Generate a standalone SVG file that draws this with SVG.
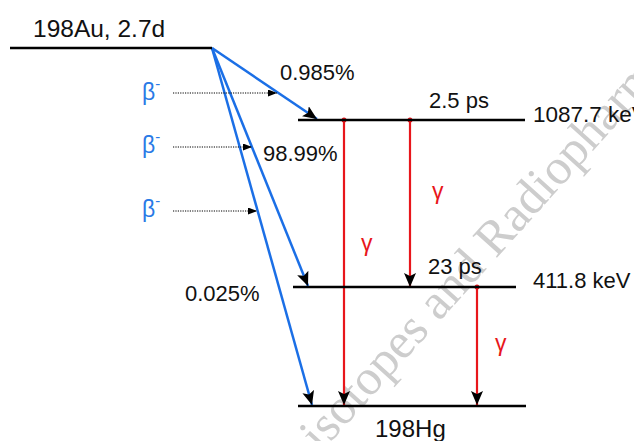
<svg xmlns="http://www.w3.org/2000/svg" width="634" height="441" viewBox="0 0 634 441">
<style>
text{font-family:"Liberation Sans",Arial,sans-serif;fill:#111}
.lvl{stroke:#000;stroke-width:2.5;fill:none}
.beta{stroke:#1b6fe6;stroke-width:2.5;fill:none;marker-end:url(#big)}
.gam{stroke:#e8161b;stroke-width:2.2;fill:none;marker-end:url(#big)}
.dot{stroke:#000;stroke-width:1;stroke-dasharray:1.2 1.2;fill:none;marker-end:url(#small)}
.bl{fill:#2a7ae6;font-size:23px}
.rd{fill:#e8161b;font-size:23px}
.wm{font-family:"Liberation Serif","Times New Roman",serif;fill:#cdcdcd;font-size:50px}
</style>
<defs>
<marker id="big" markerUnits="userSpaceOnUse" markerWidth="16" markerHeight="14" refX="14" refY="6" orient="auto" viewBox="0 0 16 14">
<path d="M0,0 L14,6 L0,12 L3,6 z" fill="#000"/>
</marker>
<marker id="small" markerUnits="userSpaceOnUse" markerWidth="10" markerHeight="8" refX="9" refY="3.5" orient="auto" viewBox="0 0 10 8">
<path d="M0,0 L9,3.5 L0,7 z" fill="#000"/>
</marker>
</defs>
<text class="wm" transform="translate(321,453) rotate(-48)">isotopes and Radiopharmaceuticals</text>
<g id="connectors">
<line class="beta" x1="212" y1="48" x2="317" y2="119"/>
<line class="beta" x1="212" y1="48" x2="308" y2="286"/>
<line class="beta" x1="212" y1="48" x2="312" y2="405"/>
<line class="gam" x1="344" y1="120" x2="344" y2="405"/>
<line class="gam" x1="410" y1="120" x2="410" y2="287"/>
<line class="gam" x1="477" y1="287" x2="477" y2="405"/>
<circle cx="344" cy="120" r="2.5" fill="#e8161b"/>
<circle cx="410" cy="120" r="2.5" fill="#e8161b"/>
<circle cx="477" cy="287" r="2.5" fill="#e8161b"/>
<line class="dot" x1="173" y1="93" x2="277" y2="93"/>
<line class="dot" x1="173" y1="147" x2="252" y2="147"/>
<line class="dot" x1="173" y1="211" x2="257" y2="211"/>
</g>
<g id="au198">
<line class="lvl" x1="10" y1="48" x2="212" y2="48"/>
<text x="33" y="37" style="font-size:24.5px">198Au, 2.7d</text>
</g>
<g id="level1087">
<line class="lvl" x1="298" y1="120" x2="525" y2="120"/>
<text x="429" y="108" style="font-size:22px">2.5 ps</text>
<text x="533" y="122" style="font-size:22.5px">1087.7 keV</text>
</g>
<g id="level411">
<line class="lvl" x1="293" y1="287" x2="516" y2="287"/>
<text x="428" y="274" style="font-size:22px">23 ps</text>
<text x="533" y="288" style="font-size:22px">411.8 keV</text>
</g>
<g id="hg198">
<line class="lvl" x1="298" y1="406" x2="526" y2="406"/>
<text x="375" y="437" style="font-size:24px">198Hg</text>
</g>
<g id="labels">
<text x="280" y="80" style="font-size:22px">0.985%</text>
<text x="263" y="161" style="font-size:22px">98.99%</text>
<text x="185" y="301" style="font-size:22px">0.025%</text>
<text class="bl" x="142" y="100">β<tspan font-size="15" dy="-11">-</tspan></text>
<text class="bl" x="142" y="153">β<tspan font-size="15" dy="-11">-</tspan></text>
<text class="bl" x="142" y="217">β<tspan font-size="15" dy="-11">-</tspan></text>
<text class="rd" x="432" y="199">γ</text>
<text class="rd" x="361" y="251">γ</text>
<text class="rd" x="495" y="351">γ</text>
</g>
</svg>
